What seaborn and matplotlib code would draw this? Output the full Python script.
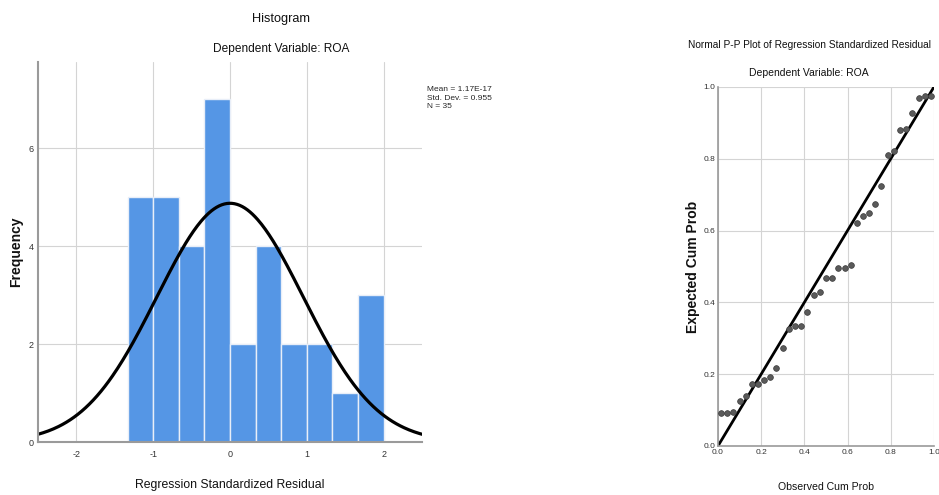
import numpy as np
import pandas as pd
import matplotlib
matplotlib.use("Agg")
import matplotlib.pyplot as plt
import seaborn as sns

# histogram of residuals (bin edges and counts)
bin_edges = [-4/3, -1, -2/3, -1/3, 0, 1/3, 2/3, 1, 4/3, 5/3, 2]
bin_counts = [5, 5, 4, 7, 2, 4, 2, 2, 1, 3]
resid_mean = 1.17e-17
resid_sd = 0.955
resid_n = 35

# normal P-P plot points
observed_cum = [0.014, 0.043, 0.071, 0.100, 0.129, 0.157, 0.186, 0.214, 0.243, 0.271,
                0.300, 0.329, 0.357, 0.386, 0.414, 0.443, 0.471, 0.500, 0.529, 0.557,
                0.586, 0.614, 0.643, 0.671, 0.700, 0.729, 0.757, 0.786, 0.814, 0.843,
                0.871, 0.900, 0.929, 0.957, 0.986]
expected_cum = [0.093, 0.093, 0.095, 0.125, 0.140, 0.174, 0.174, 0.183, 0.193, 0.216,
                0.273, 0.327, 0.333, 0.335, 0.372, 0.420, 0.430, 0.467, 0.469, 0.495,
                0.495, 0.504, 0.620, 0.641, 0.649, 0.673, 0.723, 0.811, 0.823, 0.879,
                0.884, 0.928, 0.970, 0.974, 0.974]

sns.set_style("whitegrid", {"grid.color": "#d4d4d4", "axes.edgecolor": "#9a9a9a"})
plt.rcParams['font.family'] = ['Liberation Sans', 'DejaVu Sans']
plt.rcParams['axes.unicode_minus'] = False

fig = plt.figure(figsize=(9.39, 4.95), dpi=100)

# ---------- histogram ----------
ax1 = fig.add_axes([0.0405, 0.107, 0.409, 0.768])
centers = [(bin_edges[i] + bin_edges[i + 1]) / 2 for i in range(len(bin_counts))]
df_hist = pd.DataFrame({'resid': centers, 'count': bin_counts})
sns.histplot(data=df_hist, x='resid', weights='count', bins=bin_edges,
             color='#5596e5', alpha=1, edgecolor='#e8eef8', linewidth=1, ax=ax1)

# fitted normal curve from the stated mean / sd / N
bw = bin_edges[1] - bin_edges[0]
xs = np.linspace(-2.5, 2.5, 300)
ys = resid_n * bw * np.exp(-0.5 * ((xs - resid_mean) / resid_sd) ** 2) / (resid_sd * np.sqrt(2 * np.pi))
sns.lineplot(x=xs, y=ys, color='black', linewidth=2.3, ax=ax1)

ax1.set_xlim(-2.5, 2.5)
ax1.set_ylim(0, 7.76)
ax1.set_xticks([-2, -1, 0, 1, 2])
ax1.set_yticks([0, 2, 4, 6])
ax1.tick_params(labelsize=6.5, pad=3, colors='#333333', length=0)
ax1.tick_params(axis='x', pad=6)
ax1.set_xlabel('Regression Standardized Residual', fontsize=8.8, va='center', color='#111111')
ax1.xaxis.set_label_coords(0.5, -0.113)
ax1.set_ylabel('Frequency', fontsize=10, fontweight='bold', va='center', color='#111111')
ax1.yaxis.set_label_coords(-0.057, 0.5)
ax1.set_axisbelow(True)
for s in ['top', 'right']:
    ax1.spines[s].set_visible(False)
ax1.spines['left'].set_linewidth(1.5)
ax1.spines['bottom'].set_linewidth(1.5)

fig.text(0.299, 0.962, 'Histogram', ha='center', va='center', fontsize=9.2, color='#111111')
fig.text(0.299, 0.901, 'Dependent Variable: ROA', ha='center', va='center', fontsize=8.6, color='#111111')
fig.text(0.455, 0.802, 'Mean = 1.17E-17\nStd. Dev. = 0.955\nN = 35',
         ha='left', va='center', fontsize=6, linespacing=1.25)

# ---------- P-P plot ----------
ax2 = fig.add_axes([0.7646, 0.099, 0.230, 0.7253])
df_pp = pd.DataFrame({'observed': observed_cum, 'expected': expected_cum})
sns.lineplot(x=[0, 1], y=[0, 1], color='black', linewidth=2, ax=ax2)
sns.scatterplot(data=df_pp, x='observed', y='expected', color='#5a5a5a',
                edgecolor='#3a3a3a', s=17, linewidth=0.5, zorder=3, ax=ax2)
ax2.set_xlim(0, 1)
ax2.set_ylim(0, 1)
ticks = [0.0, 0.2, 0.4, 0.6, 0.8, 1.0]
ax2.set_xticks(ticks)
ax2.set_yticks(ticks)
ax2.set_xticklabels([f'{t:.1f}' for t in ticks])
ax2.set_yticklabels([f'{t:.1f}' for t in ticks])
ax2.tick_params(labelsize=6, pad=2, colors='#333333', length=0)
ax2.set_xlabel('Observed Cum Prob', fontsize=7.6, va='center', color='#111111')
ax2.xaxis.set_label_coords(0.5, -0.114)
ax2.set_ylabel('Expected Cum Prob', fontsize=10, fontweight='bold', va='center', color='#111111')
ax2.yaxis.set_label_coords(-0.116, 0.5)
ax2.set_axisbelow(True)
for s in ['top', 'right']:
    ax2.spines[s].set_visible(False)
ax2.spines['left'].set_linewidth(1.2)
ax2.spines['bottom'].set_linewidth(1.2)

fig.text(0.8616, 0.909, 'Normal P-P Plot of Regression Standardized Residual',
         ha='center', va='center', fontsize=7.3, color='#111111')
fig.text(0.8616, 0.8525, 'Dependent Variable: ROA', ha='center', va='center', fontsize=7.5, color='#111111')

fig.savefig('out.png', dpi=100)
